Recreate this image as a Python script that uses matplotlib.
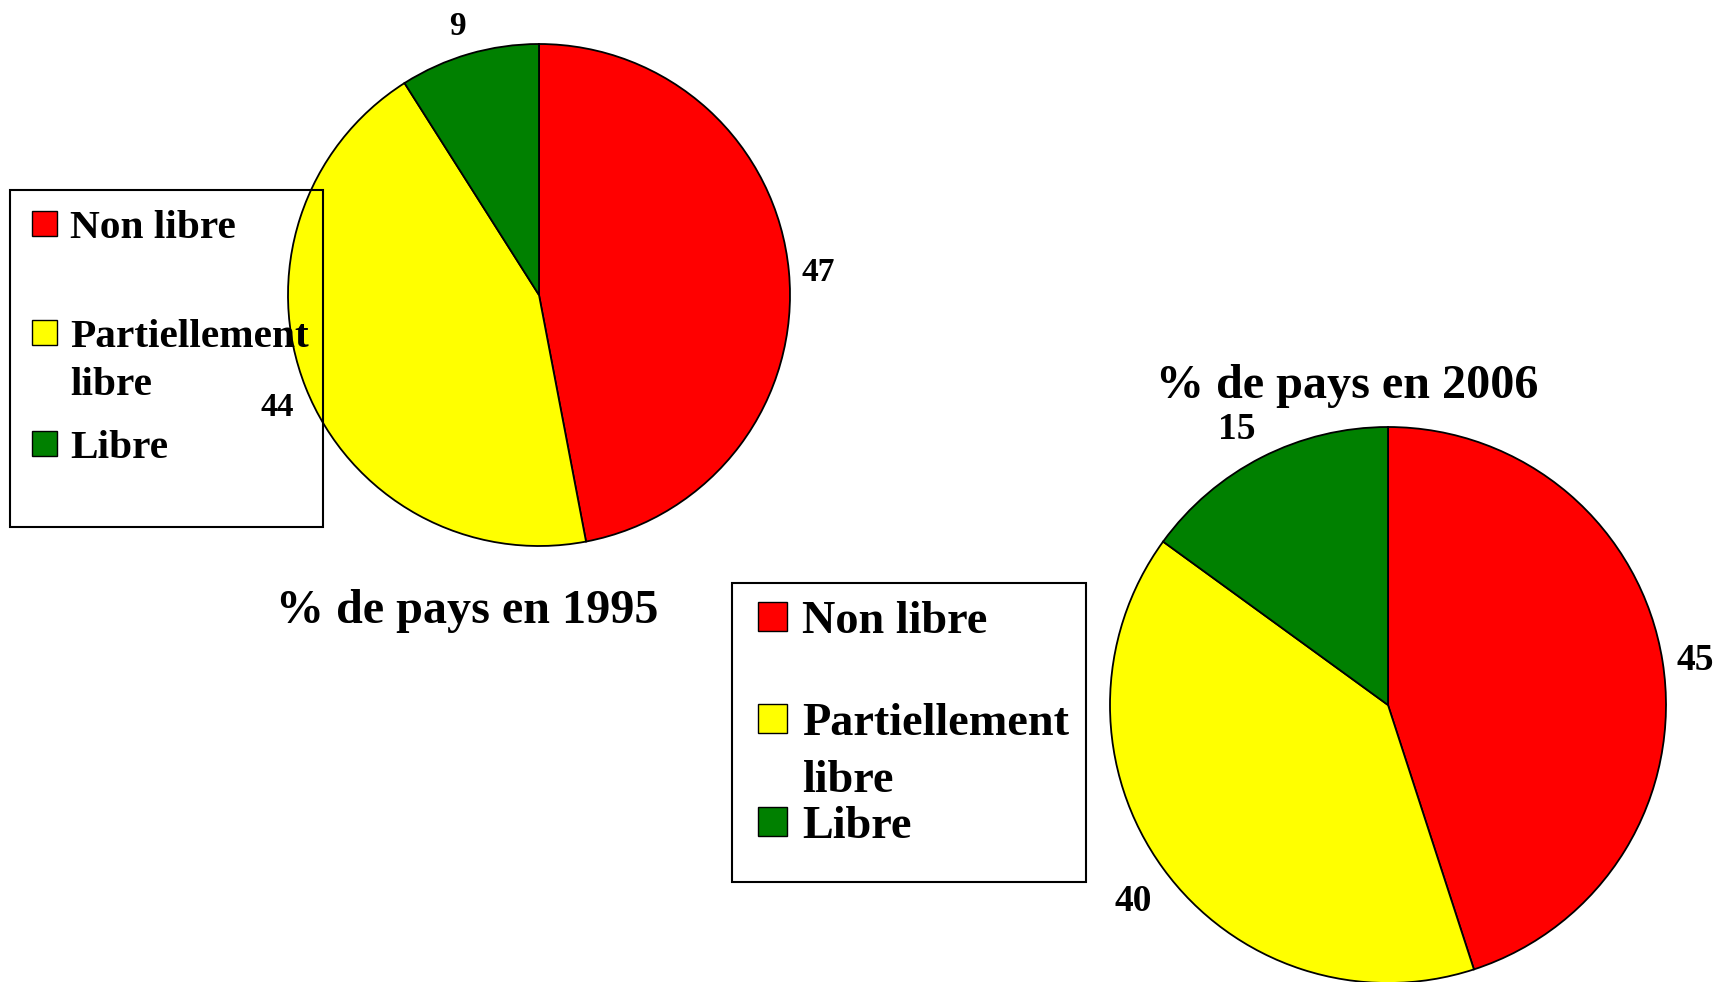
import numpy as np
import matplotlib.pyplot as plt
from matplotlib.patches import Rectangle

plt.rcParams['font.family'] = ['Liberation Serif', 'DejaVu Serif']
plt.rcParams['font.weight'] = 'bold'

# donnees
categories = ["Non libre", "Partiellement\nlibre", "Libre"]
colors = ["#FF0000", "#FFFF00", "#008000"]
titles = ["% de pays en 1995", "% de pays en 2006"]
values_1995 = [47, 44, 9]
values_2006 = [45, 40, 15]

W, H = 1724, 982
fig = plt.figure(figsize=(W / 100, H / 100), dpi=100)


def px_axes(cx, cy, r):
    # axes carre centre sur (cx, cy) en pixels (origine en haut a gauche)
    return fig.add_axes([(cx - r) / W, (H - cy - r) / H, 2 * r / W, 2 * r / H])


def draw_pie(ax, values, fontsize):
    wedges, texts = ax.pie(values, labels=[str(v) for v in values], colors=colors,
                           startangle=90, counterclock=False, radius=1,
                           labeldistance=1.05,
                           wedgeprops=dict(edgecolor='black', linewidth=1.3),
                           textprops=dict(fontsize=fontsize, fontweight='bold'))
    for w, t in zip(wedges, texts):
        s = np.sin(np.deg2rad((w.theta1 + w.theta2) / 2))
        x, y = t.get_position()
        # decalage vertical facon excel
        dy = 0.08 * s if s > 0 else 0.13 * s
        t.set_position((x, y + dy - 0.015))
        t.set_clip_on(False)
    ax.set_xlim(-1, 1)
    ax.set_ylim(-1, 1)
    ax.axis('off')


def draw_legend(box, marker_x, marker_size, baselines, text_x, fontsize, pitch):
    x0, y0, x1, y1 = box
    fig.add_artist(Rectangle((x0 / W, 1 - y1 / H), (x1 - x0) / W, (y1 - y0) / H,
                             transform=fig.transFigure, fill=False,
                             edgecolor='black', linewidth=1.5, zorder=5))
    for lab, col, b in zip(categories, colors, baselines):
        fig.add_artist(Rectangle((marker_x / W, 1 - (b - 2) / H), marker_size / W, marker_size / H,
                                 transform=fig.transFigure, facecolor=col,
                                 edgecolor='black', linewidth=1, zorder=5))
        for j, line in enumerate(lab.split("\n")):
            fig.text(text_x / W, 1 - (b + j * pitch) / H, line, fontsize=fontsize,
                     fontweight='bold', va='baseline', ha='left', zorder=6)


ax1 = px_axes(539, 295, 251)
draw_pie(ax1, values_1995, 24)
ax2 = px_axes(1388, 705, 278)
draw_pie(ax2, values_2006, 27)

draw_legend((10, 190, 323, 527), 32, 25, [238, 347, 458], 70, 29.7, 48)
draw_legend((732, 583, 1086, 882), 758, 29, [633, 735, 838], 802, 33.3, 57)

fig.text(467 / W, 1 - 623 / H, titles[0], ha='center', va='baseline', fontsize=34.7, fontweight='bold')
fig.text(1347 / W, 1 - 398 / H, titles[1], ha='center', va='baseline', fontsize=34.7, fontweight='bold')

fig.savefig("out.png", dpi=100, facecolor='white')
